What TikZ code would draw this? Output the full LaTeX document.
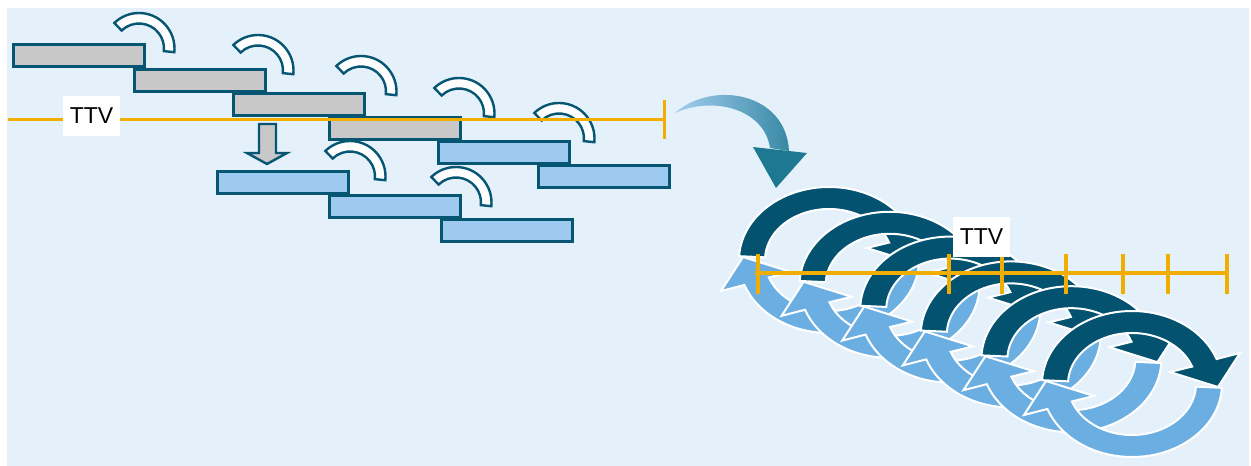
\documentclass[tikz,border=0pt]{standalone}
\usepackage{fontspec}
\setmainfont{Liberation Sans}
\usepackage{tikz}
\usetikzlibrary{calc, positioning, arrows.meta}

\definecolor{bgblue}{RGB}{229,241,250}
\definecolor{tealline}{RGB}{5,85,115}
\definecolor{darkteal}{RGB}{2,82,112}
\definecolor{arcblue}{RGB}{106,174,226}
\definecolor{barblue}{RGB}{157,202,238}
\definecolor{bargrey}{RGB}{200,200,200}
\definecolor{ttvorange}{RGB}{242,174,0}
\definecolor{arrowteal}{RGB}{30,120,145}
\definecolor{arrowlight}{RGB}{163,205,240}

\tikzset{
    taskbar/.style={draw=tealline, line width=2.6pt, anchor=north west, minimum width=131pt, minimum height=22pt, inner sep=0pt},
    ttvlabel/.style={fill=white, minimum width=57pt, minimum height=40pt, inner sep=0pt, font=\fontsize{23}{27}\selectfont},
    turnarc/.pic={
        \draw[draw=tealline, fill=white, line width=2.4pt]
            (226:35.5) arc[start angle=226, end angle=366, radius=35.5]
            -- (366:25) arc[start angle=366, end angle=226, radius=25] -- cycle;
    },
    cyclepair/.pic={
        % upper arc
        \draw[white, fill=darkteal, line width=2pt]
            (183:90 and 73) arc[start angle=183, end angle=340, x radius=90, y radius=73]
            -- (108,-31) -- (86,3) -- (38,-12)
            -- (340:64 and 51) arc[start angle=340, end angle=183, x radius=64, y radius=51] -- cycle;
        % lower arc
        \draw[white, fill=arcblue, line width=2pt]
            (3:90 and 73) arc[start angle=3, end angle=160, x radius=90, y radius=73]
            -- (-108,31) -- (-86,-3) -- (-38,12)
            -- (160:64 and 51) arc[start angle=160, end angle=3, x radius=64, y radius=51] -- cycle;
    }
}

\begin{document}
\begin{tikzpicture}[x=1pt, y=-1pt]
        \useasboundingbox (0,0) rectangle (1251,466);
        \fill[bgblue] (7,8) rectangle (1249,466);

        % Sequential tasks
        \node[taskbar, fill=bargrey] (g1) at (12,43) {};
        \node[taskbar, fill=bargrey] (g2) at (133,68) {};
        \node[taskbar, fill=bargrey] (g3) at (232,92) {};
        \node[taskbar, fill=bargrey] (g4) at (328,116) {};
        \node[taskbar, fill=barblue] (b1) at (437,140) {};
        \node[taskbar, fill=barblue] (b2) at (537,164) {};
        \node[taskbar, fill=barblue] (b3) at (216,170) {};
        \node[taskbar, fill=barblue] (b4) at (328,194) {};
        \node[taskbar, fill=barblue] (b5) at (440,218) {};

        % Hand-overs
        \foreach \hx/\hy in {139/48.5, 258/70.5, 361/91.5, 459/113.5, 559/138.5, 350/176.5, 456/202.5}
            \pic at (\hx,\hy) {turnarc};

        % Shift down
        \draw[draw=tealline, fill=bargrey, line width=2.4pt] (259,124) -- (276,124) -- (276,153) -- (287,153)
            -- (267,164) -- (247,153) -- (259,153) -- cycle;

        % TTV, left
        \coordinate (la) at (8,119);
        \coordinate (lb) at (664,119);
        \draw[ttvorange, line width=3pt] (la) -- (lb);
        \draw[ttvorange, line width=3pt] ($(lb)+(0,-19)$) -- ($(lb)+(0,20)$);
        \node[ttvlabel] (ttvleft) at (91.5,116) {TTV};

        % Transition
        \shade[left color=arrowlight, right color=arrowteal!80!arrowlight]
            (675,113) .. controls (712,80) and (786,92) .. (789,151) -- (770,148)
            .. controls (764,108) and (712,96) .. (675,113) -- cycle;
        \fill[arrowteal] (753,147) -- (807,153) -- (776,188) -- cycle;

        % Iterations
        \foreach \k in {0,...,5}
            \pic at (829+60.6*\k, 260+24.8*\k) {cyclepair};

        % TTV, right
        \coordinate (ra) at (755,273);
        \coordinate (rb) at (1227,273);
        \draw[ttvorange, line width=4pt] (ra) -- (rb);
        \foreach \tx in {758, 949, 1002, 1066, 1123, 1168, 1227}
            \draw[ttvorange, line width=4pt] (\tx,254) -- (\tx,294);
        \node[ttvlabel] (ttvright) at (981.5,237) {TTV};
    \end{tikzpicture}
\end{document}
